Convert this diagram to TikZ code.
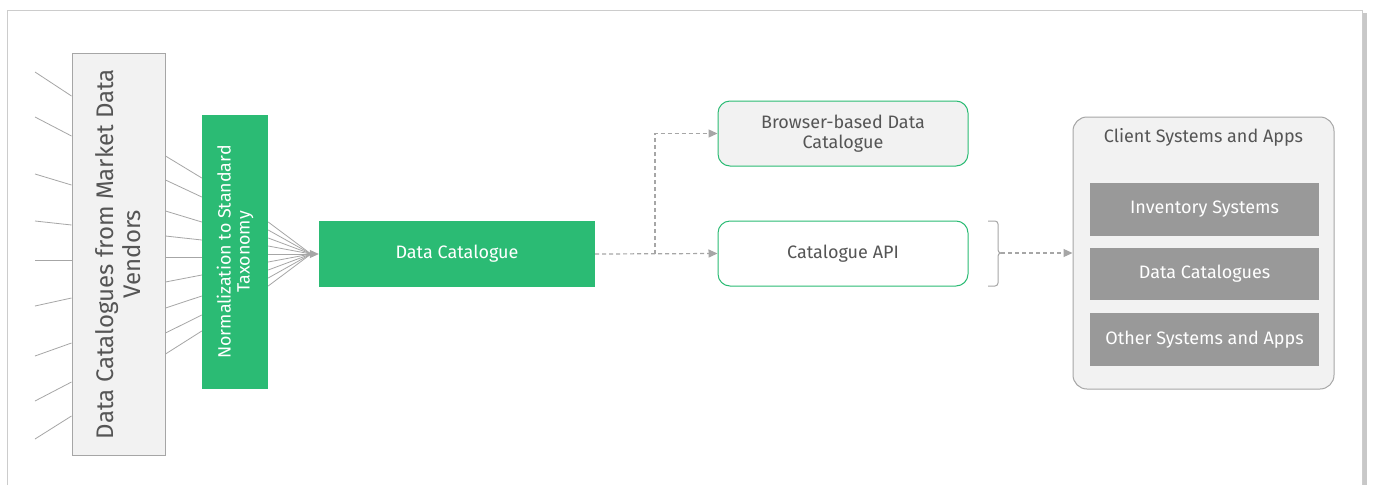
\documentclass[tikz,border=0pt]{standalone}
\usepackage{fontspec}
\setmainfont{Fira Sans}
\usetikzlibrary{arrows.meta,calc}
\definecolor{grn}{HTML}{2BBB74}
\definecolor{txtgray}{HTML}{555555}
\definecolor{boxgray}{HTML}{999999}
\definecolor{lightfill}{HTML}{F2F2F2}
\definecolor{linegray}{HTML}{A6A6A6}
\definecolor{framegray}{HTML}{CCCCCC}
\tikzset{
  mainfont/.style={font=\fontsize{18}{21}\selectfont},
  greenbox/.style={draw=none,fill=grn,text=white,inner sep=0pt,align=center,mainfont},
  outlinebox/.style={draw=grn,line width=1pt,rounded corners=12pt,inner sep=0pt,align=center,text=txtgray,mainfont},
  graybox/.style={draw=none,fill=boxgray,text=white,inner sep=0pt,minimum width=229pt,mainfont},
  thinline/.style={draw=linegray,line width=0.8pt},
  dashline/.style={draw=linegray,line width=1.2pt,dash pattern=on 4pt off 3pt},
  arrowtip/.style={-{Triangle[length=9pt,width=8pt,fill=linegray]}}
}
\begin{document}
\begin{tikzpicture}[x=1pt,y=-1pt]
\useasboundingbox (0,0) rectangle (1373,485);
% frame with shadow
\fill[framegray!80!black!60] (1362,13) rectangle (1367,485);
\fill[white] (7,10) rectangle (1362,485);
\draw[framegray,line width=1pt] (7,485) -- (7,10) -- (1362,10) -- (1362,485);

% vendors box
\node[draw=linegray,fill=lightfill,line width=1pt,minimum width=93pt,minimum height=402pt,inner sep=0pt] (vend) at (118.5,254) {};
\node[rotate=90,align=center,text=txtgray,inner sep=0pt,font=\fontsize{24}{27}\selectfont] (vendtext) at (vend.center) {Data Catalogues from Market Data\\Vendors};

% normalization box
\node[greenbox,minimum width=66pt,minimum height=274pt] (norm) at (235,252) {};
\node[rotate=90,align=center,text=white,inner sep=0pt,font=\fontsize{17.8}{19}\selectfont] (normtext) at (norm.center) {Normalization to Standard\\Taxonomy};

% data catalogue
\node[greenbox,minimum width=276pt,minimum height=66pt] (dc) at (457,254) {Data Catalogue};

% browser & api
\node[outlinebox,fill=lightfill,minimum width=250pt,minimum height=65pt] (brow) at (843,133.5) {Browser-based Data\\[-1pt]Catalogue};
\node[outlinebox,fill=white,minimum width=250pt,minimum height=65pt] (api) at (843,253.5) {Catalogue API};

% client container
\node[draw=linegray,fill=lightfill,line width=1pt,rounded corners=14pt,minimum width=261pt,minimum height=272pt,inner sep=0pt] (client) at (1203.5,253) {};
\node[text=txtgray,mainfont,inner sep=0pt] (ctitle) at (1203.5,137) {Client Systems and Apps};
\node[graybox,minimum height=53pt] (inv) at (1204.5,209.5) {Inventory Systems};
\node[graybox,minimum height=52pt] (dcs) at (1204.5,274) {Data Catalogues};
\node[graybox,minimum height=53pt] (oth) at (1204.5,339.5) {Other Systems and Apps};

% incoming vendor lines
\foreach \a/\b [count=\i] in {72/96,117/136,174/185,221/225,260/260,306/298,356/343,401/382,439/416}{
  \coordinate (src\i) at (35,\a);
  \draw[thinline] (src\i) -- (vend.west |- 0,\b);
}
% vendor -> normalization lines
\foreach \a/\b in {156/178,180/197,211/222,236/240,257/257,282/275,308/296,333/315,354/331}{
  \draw[thinline] (vend.east |- 0,\a) -- (norm.west |- 0,\b);
}
% fan into data catalogue
\coordinate (fan) at (311,254);
\foreach \a in {222,230,238,246,254,262,270,278,286}{
  \draw[thinline] (norm.east |- 0,\a) -- (fan);
}
\draw[thinline,arrowtip] (fan) -- (dc.west);

% dashed connectors
\coordinate (split) at (655,254);
\draw[dashline,arrowtip] (dc.east) -- (api.west);
\draw[dashline,arrowtip] (split) |- (brow.west);

% brace
\coordinate (bracetip) at (1001,253);
\draw[linegray,line width=1pt,rounded corners=3pt] (988,221) -- (998,221) -- (998,253) -- (bracetip);
\draw[linegray,line width=1pt,rounded corners=3pt] (988,286) -- (998,286) -- (998,253) -- (bracetip);
\draw[dashline,arrowtip] (bracetip) -- (client.west |- bracetip);
\end{tikzpicture}
\end{document}
